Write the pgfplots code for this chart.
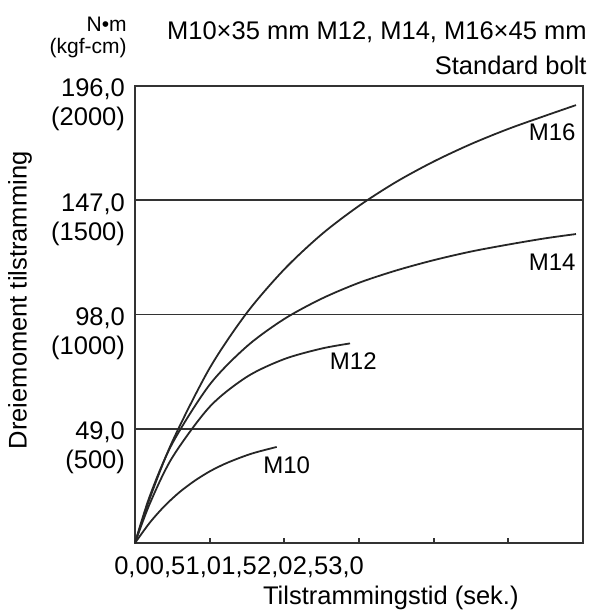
\documentclass[border=0pt]{standalone}
\usepackage{pgfplots}
\pgfplotsset{compat=1.18}
\usepackage{fontspec}
\setmainfont{Liberation Sans}
\begin{document}
\begin{tikzpicture}
\useasboundingbox (-67.5pt,-34.5pt) rectangle (230pt,271.5pt);
\begin{axis}[
  at={(0,0)}, anchor=south west,
  scale only axis, width=224pt, height=228.5pt,
  xmin=0, xmax=3, ymin=0, ymax=196,
  axis line style={black!80, line width=0.9pt},
  font=\fontsize{12.75}{14.5}\selectfont,
  /pgf/number format/assume math mode=true,
  tick pos=left, tick align=inside,
  xtick={0,0.5,...,3}, xticklabels={},
  major tick length=2.5pt,
  tick style={black!80, line width=0.9pt},
  extra x ticks={0,0.2391,0.4781,0.7172,0.9563,1.1954,1.4344},
  extra x tick labels={{0,0},{0,5},{1,0},{1,5},{2,0},{2,5},{3,0}},
  extra x tick style={major tick length=0pt, tick label style={xshift=-1.5pt, yshift=-3.5pt}},
  ytick={49,98,147,196},
  yticklabels={{49,0\\(500)},{98,0\\(1000)},{147,0\\(1500)},{196,0\\(2000)}},
  ytick style={draw=none},
  yticklabel style={align=right, yshift=-9.6pt, xshift=-1.5pt},
  tick label style={font=\fontsize{12.75}{14.5}\selectfont},
  ymajorgrids, grid style={black!80, line width=0.9pt},
  ylabel={Dreiemoment tilstramming},
  ylabel style={at={(axis description cs:-0.2567,0.531)}, anchor=center, font=\fontsize{12.75}{14.5}\selectfont},
  xlabel={Tilstrammingstid (sek.)},
  xlabel style={at={(axis description cs:0.571,-0.1204)}, anchor=center, font=\fontsize{12.75}{14.5}\selectfont},
  clip=false
]
% M16
\addplot[black!85, line width=0.9pt, smooth] coordinates {
 (0,0) (0.1,19.3) (0.25,43.5) (0.5,75.0) (0.75,98.8) (1.0,117.4) (1.25,132.4) (1.5,144.6) (1.75,154.9) (2.0,163.6) (2.25,171.1) (2.5,177.6) (2.75,183.3) (2.953,187.8)};
% M14
\addplot[black!85, line width=0.9pt, smooth] coordinates {
 (0,0) (0.1,20.3) (0.25,42.7) (0.5,67.9) (0.75,84.4) (1.0,96.1) (1.25,104.8) (1.5,111.6) (1.75,116.9) (2.0,121.3) (2.25,125.0) (2.5,128.0) (2.75,130.7) (2.953,132.5)};
% M12
\addplot[black!85, line width=0.9pt, smooth] coordinates {
 (0,0) (0.1,17.0) (0.25,36.7) (0.5,58.4) (0.75,71.3) (1.0,78.9) (1.25,83.4) (1.44,85.6)};
% M10
\addplot[black!85, line width=0.9pt, smooth] coordinates {
 (0,0) (0.1,8.8) (0.2,16.0) (0.3,21.9) (0.4,26.7) (0.5,30.7) (0.6,33.9) (0.7,36.5) (0.8,38.7) (0.949,41.2)};
\node[anchor=east, inner sep=0pt, font=\fontsize{12}{14}\selectfont] at (axis cs:2.953,176.1) {M16};
\node[anchor=east, inner sep=0pt, font=\fontsize{12}{14}\selectfont] at (axis cs:2.953,120.3) {M14};
\node[inner sep=0pt, font=\fontsize{12}{14}\selectfont] at (axis cs:1.462,77.8) {M12};
\node[inner sep=0pt, font=\fontsize{12}{14}\selectfont] at (axis cs:1.016,33.5) {M10};
\end{axis}
\node[anchor=east, inner sep=0pt, font=\fontsize{12.75}{14.5}\selectfont] at ([xshift=2pt,yshift=27pt]current axis.north east) {M10×35 mm M12, M14, M16×45 mm};
\node[anchor=east, inner sep=0pt, font=\fontsize{12.75}{14.5}\selectfont] at ([xshift=2pt,yshift=10.5pt]current axis.north east) {Standard bolt};
\node[anchor=east, inner sep=0pt, font=\fontsize{10.5}{12}\selectfont] at ([xshift=-4pt,yshift=31pt]current axis.north west) {N•m};
\node[anchor=east, inner sep=0pt, font=\fontsize{10.5}{12}\selectfont] at ([xshift=-4pt,yshift=19pt]current axis.north west) {(kgf-cm)};
\end{tikzpicture}
\end{document}
